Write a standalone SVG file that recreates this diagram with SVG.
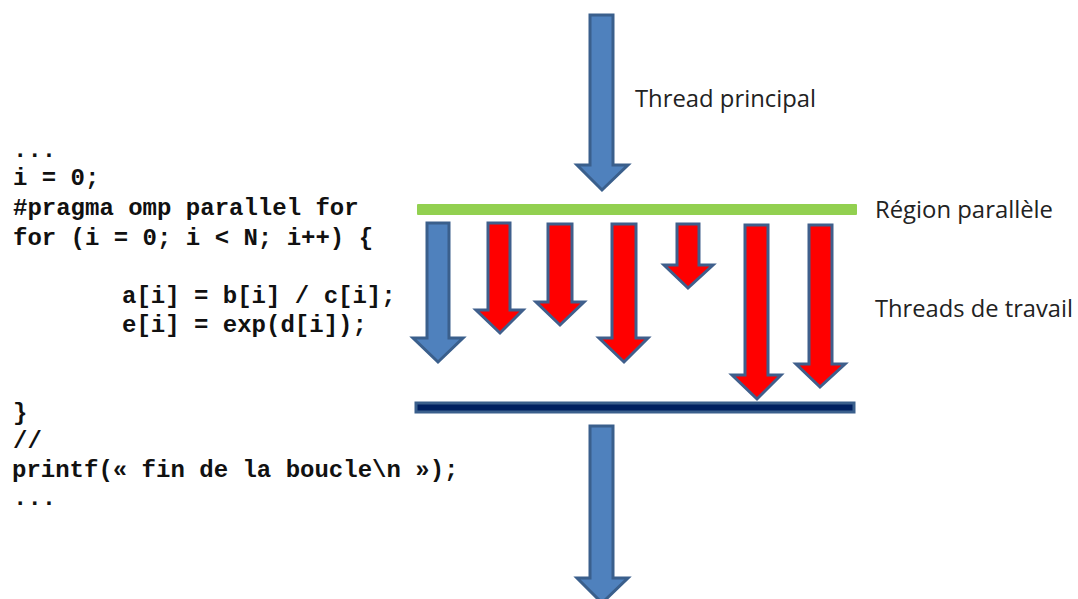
<svg xmlns="http://www.w3.org/2000/svg" width="1078" height="599" viewBox="0 0 1078 599">
<style>
.code{font-family:"Liberation Mono","Courier New",monospace;font-weight:bold;font-size:24px;fill:#111;white-space:pre}
.lbl{font-family:"Open Sans","Liberation Sans",sans-serif;font-size:23px;fill:#222}
.blue{fill:#4F81BD;stroke:#3A5F8C;stroke-width:3;stroke-linejoin:miter}
.red{fill:#FF0000;stroke:#3F5F8C;stroke-width:3;stroke-linejoin:miter}
</style>
<rect width="1078" height="599" fill="#fff"/>
<g id="code">
<text class="code" x="13" y="157">...</text>
<text class="code" x="13" y="185">i = 0;</text>
<text class="code" x="13" y="215">#pragma omp parallel for</text>
<text class="code" x="13" y="245">for (i = 0; i &lt; N; i++) {</text>
<text class="code" x="122" y="303">a[i] = b[i] / c[i];</text>
<text class="code" x="122" y="332">e[i] = exp(d[i]);</text>
<text class="code" x="13" y="420">}</text>
<text class="code" x="13" y="448">//</text>
<text class="code" x="12" y="477">printf(« fin de la boucle\n »);</text>
<text class="code" x="13" y="505">...</text>
</g>
<g id="labels">
<text class="lbl" x="635" y="107" textLength="181" lengthAdjust="spacingAndGlyphs">Thread principal</text>
<text class="lbl" x="875" y="218" textLength="178" lengthAdjust="spacingAndGlyphs">Région parallèle</text>
<text class="lbl" x="875" y="317" textLength="198" lengthAdjust="spacingAndGlyphs">Threads de travail</text>
</g>
<g id="region-start"><rect x="417" y="204" width="440" height="11" rx="1" fill="#92D050"/></g>
<g id="region-end"><rect x="416" y="403" width="438" height="9" fill="#002060" stroke="#3A5F8C" stroke-width="3"/></g>
<g id="connectors">
<path id="main-in" class="blue" d="M590,15 L613,15 L613,165 L628,165 L602,190 L577,165 L590,165 Z"/>
<path id="main-out" class="blue" d="M590,426 L613,426 L613,578 L628,578 L602,603 L577,578 L590,578 Z"/>
<path id="t0" class="blue" d="M427,223 L449,223 L449,338 L463,338 L438,362 L413,338 L427,338 Z"/>
<path id="t1" class="red" d="M488,223 L510,223 L510,310 L523,310 L500,333 L476,310 L488,310 Z"/>
<path id="t2" class="red" d="M548,224 L572,224 L572,302 L584,302 L560,325 L536,302 L548,302 Z"/>
<path id="t3" class="red" d="M612,224 L636,224 L636,338 L648,338 L624,362 L599,338 L612,338 Z"/>
<path id="t4" class="red" d="M677,224 L699,224 L699,265 L713,265 L688,288 L664,265 L677,265 Z"/>
<path id="t5" class="red" d="M745,225 L768,225 L768,375 L781,375 L757,399 L732,375 L745,375 Z"/>
<path id="t6" class="red" d="M809,225 L832,225 L832,364 L845,364 L820,387 L796,364 L809,364 Z"/>
</g>
</svg>
